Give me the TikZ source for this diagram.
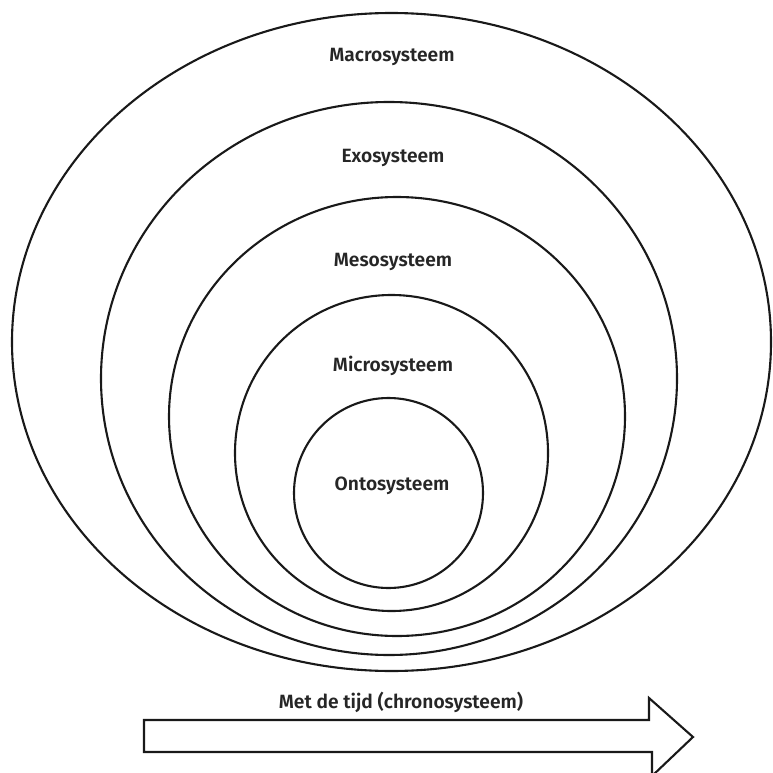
\documentclass[tikz,border=0pt]{standalone}
\usepackage{fontspec}
\newfontfamily\lblfont{Fira Sans SemiBold}
\tikzset{
  ring/.style={draw=black!90, line width=2.1pt},
  lbl/.style={font=\lblfont\fontsize{19.2}{21}\selectfont, text=black!85, inner sep=0pt}
}
\begin{document}
\begin{tikzpicture}[x=1pt, y=-1pt]
                \useasboundingbox (0,0) rectangle (772,773);

                % Centres des systèmes
                \coordinate (Cmacro) at (391.5, 342);
                \coordinate (Cexo)   at (389, 378.5);
                \coordinate (Cmeso)  at (397, 416.5);
                \coordinate (Cmicro) at (391.5, 453);
                \coordinate (Conto)  at (388.5, 493);

                % Ellipses emboîtées
                \draw[ring] (Cmacro) ellipse [x radius=379.5pt, y radius=329pt];
                \draw[ring] (Cexo)   ellipse [x radius=288pt, y radius=276.5pt];
                \draw[ring] (Cmeso)  ellipse [x radius=228pt, y radius=219.5pt];
                \draw[ring] (Cmicro) ellipse [x radius=156.5pt, y radius=158pt];
                \draw[ring] (Conto)  ellipse [x radius=94.5pt, y radius=95pt];

                % Étiquettes
                \node[lbl] (macro) at (392, 57)  {Macrosysteem};
                \node[lbl] (exo)   at (393, 158) {Exosysteem};
                \node[lbl] (meso)  at (393, 262) {Mesosysteem};
                \node[lbl] (micro) at (393, 366) {Microsysteem};
                \node[lbl] (onto)  at (392, 486) {Ontosysteem};

                % Flèche du temps
                \draw[ring, line join=miter]
                    (144, 720) -- (649, 720) -- (649, 698) -- (693, 737)
                    -- (652, 776) -- (652, 752) -- (144, 752) -- cycle;
                \node[lbl] (chrono) at (401, 702) {Met de tijd (chronosysteem)};
            \end{tikzpicture}
\end{document}
